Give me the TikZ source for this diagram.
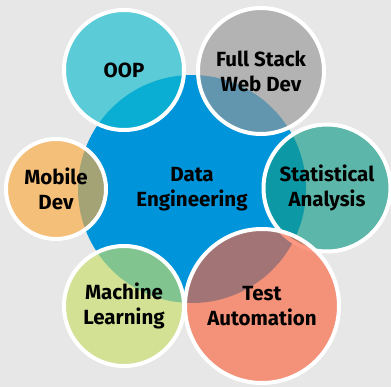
\documentclass[tikz,border=0pt]{standalone}
\usepackage{fontspec}
\setmainfont{Fira Sans}
\usepackage{tikz}

\definecolor{bggray}{RGB}{231,231,231}
\definecolor{hubblue}{RGB}{0,149,218}
\definecolor{oopcyan}{RGB}{17,188,208}
\definecolor{webgray}{RGB}{152,152,152}
\definecolor{statteal}{RGB}{19,156,137}
\definecolor{testsalmon}{RGB}{251,99,63}
\definecolor{mlgreen}{RGB}{199,222,105}
\definecolor{mobileorange}{RGB}{251,171,63}

\tikzset{bubble/.style={circle,draw=white,line width=4pt,inner sep=0pt,
                        fill opacity=0.65,text opacity=1,align=center,
                        font=\fontsize{20.5}{25}\selectfont\bfseries}}

\begin{document}
\begin{tikzpicture}[x=1pt,y=-1pt]

                    \fill[bggray] (0,0) rectangle (391,387);
                    \useasboundingbox (0,0) rectangle (391,387);
                    \clip (0,0) rectangle (391,387);

                    \node[circle,fill=hubblue,minimum size=228pt,inner sep=0pt,align=center,
                          font=\fontsize{20.5}{25}\selectfont\bfseries] (hub) at (192,189) {Data\\Engineering};

                    \node[bubble,fill=oopcyan,minimum size=120pt] (oop) at (124,70) {OOP};
                    \node[bubble,fill=webgray,minimum size=126pt] (web) at (261,71) {Full Stack\\Web Dev};
                    \node[bubble,fill=statteal,minimum size=127pt] (stat) at (327,188) {Statistical\\Analysis};
                    \node[bubble,fill=testsalmon,minimum size=154pt] (test) at (262,306) {Test\\Automation};
                    \node[bubble,fill=mlgreen,minimum size=120pt] (ml) at (124,306) {Machine\\Learning};
                    \node[bubble,fill=mobileorange,minimum size=100pt] (mobile) at (56,189) {Mobile\\Dev};

                \end{tikzpicture}
\end{document}
